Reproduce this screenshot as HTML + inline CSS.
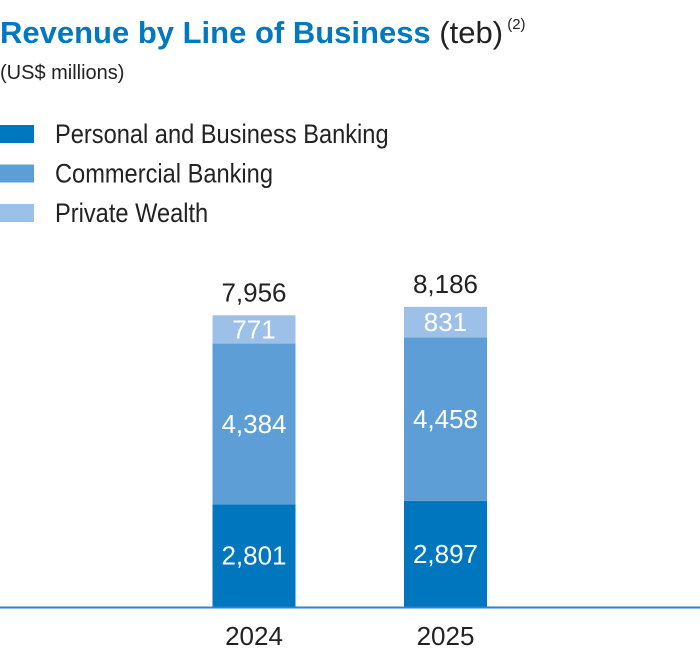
<!DOCTYPE html>
<html><head><meta charset="utf-8"><style>
body{margin:0;background:#fff;width:700px;height:654px;overflow:hidden;font-family:"Liberation Sans Narrow","Liberation Sans",sans-serif;}
svg text{font-family:"Liberation Sans Narrow","Liberation Sans",sans-serif;}
</style></head><body>
<svg width="700" height="654">
<text x="0" y="43" font-size="31" fill="#222"><tspan font-weight="bold" fill="#0079c1">Revenue by Line of Business</tspan> (teb)<tspan font-size="15" dy="-14"> (2)</tspan></text>
<text x="0" y="79" font-size="20" fill="#222">(US$ millions)</text>
<g id="legend"></g>
<g id="bars"></g>
<line x1="0" x2="700" y1="607.5" y2="607.5" stroke="#2a86c8" stroke-width="2"/>
</svg>
<script>
const categories=["2024","2025"];
const seriesNames=["Personal and Business Banking","Commercial Banking","Private Wealth"];
const pbb=[2801,2897];
const commercial=[4384,4458];
const wealth=[771,831];
const totals=[7956,8186];
const colors=["#0076bf","#5e9ed6","#9cc0e8"];
const NS="http://www.w3.org/2000/svg";
const base=607,scale=291.7/7956;
const y=v=>base-v*scale;
const xc=i=>254+i*191.5;
const bw=83;
function mk(tag,attrs,parent){const e=document.createElementNS(NS,tag);for(const k in attrs)e.setAttribute(k,attrs[k]);parent.appendChild(e);return e;}
const lg=document.getElementById('legend');
seriesNames.forEach((n,i)=>{
  const r=mk('rect',{x:0,y:125+i*39.5,width:34,height:18,fill:colors[i]},lg);
  
  
  const t=mk('text',{x:55,y:143+i*39.5,'font-size':27,fill:'#222'},lg);
  t.textContent=n;
  const w=t.getComputedTextLength();
  t.setAttribute('textLength',w*0.875);
  t.setAttribute('lengthAdjust','spacingAndGlyphs');
  
  
});
const bg=document.getElementById('bars');
const series=[pbb,commercial,wealth];
categories.forEach((c,i)=>{
  let acc=0;
  series.forEach((s,k)=>{
    const v=s[i];
    const r=mk('rect',{x:xc(i)-bw/2,y:y(acc+v),width:bw,height:v*scale,fill:colors[k]},bg);
    
    
    const t=mk('text',{x:xc(i),y:y(acc+v/2)+9,'font-size':26,fill:'#fff','text-anchor':'middle'},bg);
    t.textContent=v.toLocaleString('en-US');
    
    
    acc+=v;
  });
  const tt=mk('text',{x:xc(i),y:y(totals[i])-14,'font-size':26,fill:'#222','text-anchor':'middle'},bg);
  tt.textContent=totals[i].toLocaleString('en-US');
  
  
  const xl=mk('text',{x:xc(i),y:645,'font-size':26,fill:'#222','text-anchor':'middle'},bg);
  xl.textContent=c;
  
  
});
</script>
</body></html>
